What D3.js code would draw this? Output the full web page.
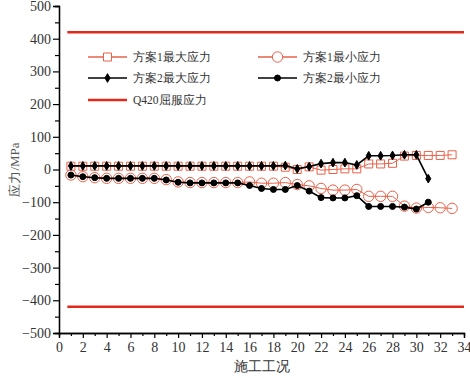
<!DOCTYPE html>
<html>
<head>
<meta charset="utf-8">
<script src="https://cdn.jsdelivr.net/npm/d3@7"></script>
<style>
  body { margin: 0; background: #fff; }
  svg text { fill: #333; }
</style>
</head>
<body>
<script>
"use strict";

var width = 470;
var height = 378;
var serif = "'Liberation Serif', 'Times New Roman', 'DejaVu Serif', serif";

// data
var steps1 = d3.range(1, 34);
var steps2 = d3.range(1, 32);
var plan1Max = [10, 10, 10, 10, 10, 10, 10, 10, 10, 10, 10, 10, 10, 10, 10, 10, 10, 10, 7, 0, 8, -2, 0, 2, 2, 17, 17, 19, 41, 43, 43, 43, 45];
var plan1Min = [-17, -22, -25, -27, -27, -27, -27, -27, -31, -38, -40, -40, -40, -40, -40, -38, -42, -42, -40, -46, -50, -58, -63, -63, -61, -82, -82, -82, -112, -118, -116, -117, -119];
var plan2Max = [11, 11, 11, 11, 11, 11, 11, 11, 11, 11, 11, 11, 11, 11, 11, 11, 11, 11, 12, 2, 9, 18, 21, 21, 14, 42, 42, 43, 45, 45, -28];
var plan2Min = [-17, -22, -25, -27, -27, -27, -27, -27, -32, -39, -41, -41, -41, -41, -41, -49, -58, -61, -61, -49, -66, -86, -87, -87, -80, -113, -113, -113, -115, -121, -100];
var yieldX = [0.7, 34];
var yieldStress = [420, -420];
var legendLabels = ["方案1最大应力", "方案1最小应力", "方案2最大应力", "方案2最小应力", "Q420屈服应力"];

var red = "#e9614a";
var redLine = "#e2291c";

var svg = d3.select("body").append("svg").attr("width", width).attr("height", height);

var xScale = d3.scaleLinear().domain([0, 34]).range([59, 464]);
var yScale = d3.scaleLinear().domain([-500, 500]).range([333, 6]);

// axes
var xAxis = d3.axisBottom(xScale).tickValues(d3.range(0, 35, 2)).tickSize(5).tickPadding(4).tickFormat(d3.format("d"));
var xMinor = d3.axisBottom(xScale).tickValues(d3.range(1, 34, 2)).tickSize(3).tickFormat("");
var yAxis = d3.axisLeft(yScale).tickValues(d3.range(-500, 501, 100)).tickSize(6).tickPadding(2);
var yMinor = d3.axisLeft(yScale).tickValues(d3.range(-450, 451, 100)).tickSize(4).tickFormat("");

svg.append("g").attr("transform", "translate(0," + yScale(-500) + ")").call(xMinor);
svg.append("g").attr("transform", "translate(0," + yScale(-500) + ")").call(xAxis);
svg.append("g").attr("transform", "translate(" + xScale(0) + ",0)").call(yMinor);
svg.append("g").attr("transform", "translate(" + xScale(0) + ",0)").call(yAxis);

svg.selectAll("g").attr("font-family", serif);
svg.selectAll(".domain").attr("stroke", "#000").attr("stroke-width", 1.3);
svg.selectAll(".tick line").attr("stroke", "#000").attr("stroke-width", 1.2);
svg.selectAll(".tick text").attr("font-family", serif).style("font-size", "14px").style("fill", "#333");

svg.append("text").attr("x", xScale(17)).attr("y", 371).attr("text-anchor", "middle")
  .attr("font-family", serif).style("font-size", "14px").text("施工工况");
svg.append("text").attr("transform", "translate(19," + yScale(0) + ") rotate(-90)")
  .attr("text-anchor", "middle").attr("font-family", serif).style("font-size", "13px")
  .style("fill", "#555").text("应力/MPa");

// yield lines
yieldStress.forEach(function (s) {
  svg.append("line").attr("x1", xScale(yieldX[0])).attr("x2", xScale(yieldX[1]))
    .attr("y1", yScale(s)).attr("y2", yScale(s))
    .attr("stroke", redLine).attr("stroke-width", 2.5);
});

var line = d3.line().x(function (d) { return xScale(d[0]); }).y(function (d) { return yScale(d[1]); });
function pairs(xs, ys) { return xs.map(function (x, i) { return [x, ys[i]]; }); }

var square = d3.symbol().type(d3.symbolSquare).size(64);
var circle = d3.symbol().type(d3.symbolCircle).size(Math.PI * 27);
var diamond = d3.symbol().type(d3.symbolDiamond).size(22);
var dot = d3.symbol().type(d3.symbolCircle).size(Math.PI * 9);

function drawSeries(data, color, lw, sym, fill) {
  svg.append("path").datum(data).attr("d", line).attr("fill", "none")
    .attr("stroke", color).attr("stroke-width", lw);
  svg.append("g").selectAll("path").data(data).enter().append("path")
    .attr("transform", function (d) { return "translate(" + xScale(d[0]) + "," + yScale(d[1]) + ")"; })
    .attr("d", sym).attr("fill", fill).attr("stroke", color).attr("stroke-width", 1);
}

drawSeries(pairs(steps1, plan1Max), red, 1, square, "none");
drawSeries(pairs(steps1, plan1Min), red, 1, circle, "none");
drawSeries(pairs(steps2, plan2Max), "#000", 1.6, diamond, "#000");
drawSeries(pairs(steps2, plan2Min), "#000", 1.6, dot, "#000");

// legend
var legendItems = [
  { x: 88, y: 57, color: red, sym: square, fill: "none", lw: 1.3 },
  { x: 258, y: 57, color: red, sym: circle, fill: "none", lw: 1.3 },
  { x: 88, y: 78, color: "#000", sym: diamond, fill: "#000", lw: 1.6 },
  { x: 258, y: 78, color: "#000", sym: dot, fill: "#000", lw: 1.6 },
  { x: 88, y: 100, color: redLine, sym: null, fill: "none", lw: 2.5 }
];
legendItems.forEach(function (it, i) {
  var g = svg.append("g").attr("transform", "translate(" + it.x + "," + it.y + ")");
  g.append("line").attr("x1", 0).attr("x2", 39).attr("stroke", it.color).attr("stroke-width", it.lw);
  if (it.sym) {
    g.append("path").attr("transform", "translate(19.5,0)").attr("d", it.sym)
      .attr("fill", it.fill === "none" ? "#fff" : it.fill).attr("stroke", it.color);
  }
  g.append("text").attr("x", 45).attr("y", 4).attr("font-family", serif).style("font-size", "11.5px").text(legendLabels[i]);
});
</script>
</body>
</html>
